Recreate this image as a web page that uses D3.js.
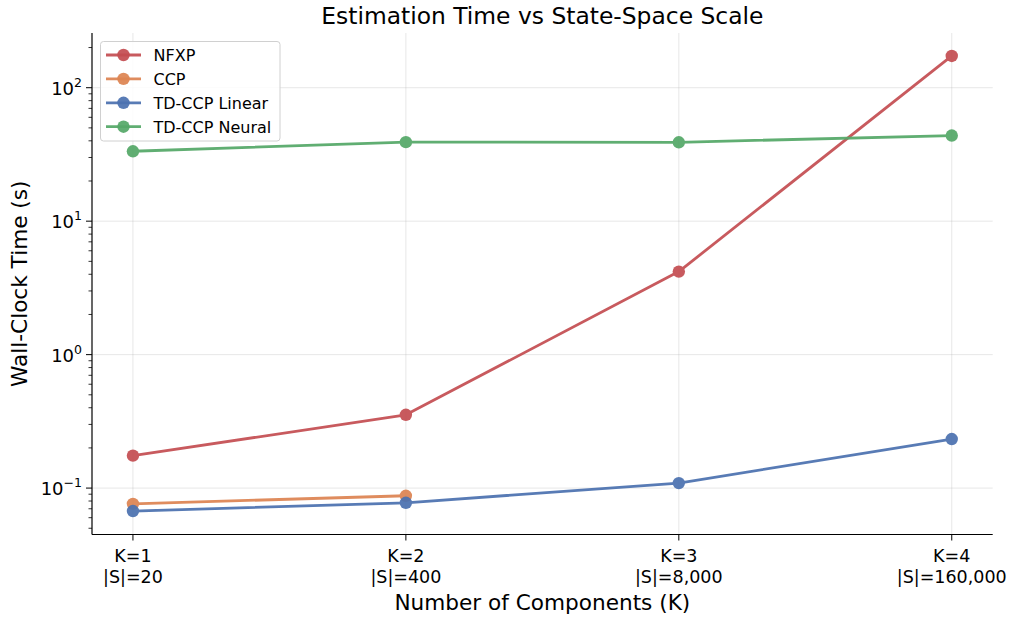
<!DOCTYPE html>
<html>
<head>
<meta charset="utf-8">
<script src="https://cdn.jsdelivr.net/npm/d3@7"></script>
<style>
  html, body { margin: 0; padding: 0; background: #fff; }
  svg { display: block; font-family: "DejaVu Sans", sans-serif; }
</style>
</head>
<body>
<svg id="chart" width="1012" height="618"></svg>
<script>
// Component counts and the corresponding state-space sizes
const categories = ["K=1", "K=2", "K=3", "K=4"];
const stateSizes = ["|S|=20", "|S|=400", "|S|=8,000", "|S|=160,000"];

// Wall-clock estimation time in seconds (log scale)
const nfxp = [0.175, 0.354, 4.19, 173];
const ccp = [0.0762, 0.0876];
const tdccpLinear = [0.0673, 0.0776, 0.109, 0.233];
const tdccpNeural = [33.4, 39.1, 39.0, 43.8];

const seriesNames = ["NFXP", "CCP", "TD-CCP Linear", "TD-CCP Neural"];
const seriesColors = ["#c44e52", "#dd8452", "#4c72b0", "#55a868"];
const seriesValues = [nfxp, ccp, tdccpLinear, tdccpNeural];

const yTickExponents = [-1, 0, 1, 2];

const svg = d3.select("#chart");
const margin = { left: 92, right: 1012 - 992.7, top: 33, bottom: 618 - 534.5 };
const W = 1012, H = 618;
const plotW = W - margin.left - margin.right;
const plotH = H - margin.top - margin.bottom;

const x = d3.scaleLinear().domain([-0.15, 3.15]).range([margin.left, margin.left + plotW]);
const y = d3.scaleLog().domain([0.0449, 257]).range([margin.top + plotH, margin.top]);

const g = svg.append("g");

// grid
const grid = g.append("g");
grid.selectAll("line.gx").data(categories).join("line")
  .attr("x1", (d, i) => x(i)).attr("x2", (d, i) => x(i))
  .attr("y1", margin.top).attr("y2", margin.top + plotH)
  .attr("stroke", "#b0b0b0").attr("stroke-opacity", 0.3).attr("stroke-width", 1);
grid.selectAll("line.gy").data(yTickExponents).join("line")
  .attr("x1", margin.left).attr("x2", margin.left + plotW)
  .attr("y1", d => y(Math.pow(10, d))).attr("y2", d => y(Math.pow(10, d)))
  .attr("stroke", "#b0b0b0").attr("stroke-opacity", 0.3).attr("stroke-width", 1);

// series
const line = d3.line().x((d, i) => x(i)).y(d => y(d));
seriesValues.forEach((vals, s) => {
  const sg = g.append("g").attr("opacity", 0.93);
  sg.append("path").datum(vals)
    .attr("d", line)
    .attr("fill", "none")
    .attr("stroke", seriesColors[s])
    .attr("stroke-width", 2.8)
    .attr("stroke-linejoin", "round")
    .attr("stroke-linecap", "butt");
  sg.selectAll(null).data(vals).join("circle")
    .attr("cx", (d, i) => x(i)).attr("cy", d => y(d))
    .attr("r", 6.2).attr("fill", seriesColors[s]);
});

// y axis: major ticks with superscript labels, minor ticks
const yAxisG = g.append("g");
const minorTicks = y.ticks().filter(v => {
  const e = Math.log10(v);
  return Math.abs(e - Math.round(e)) > 1e-6;
});
yAxisG.selectAll("line.minor").data(minorTicks).join("line")
  .attr("x1", margin.left - 3.5).attr("x2", margin.left)
  .attr("y1", d => y(d)).attr("y2", d => y(d))
  .attr("stroke", "#000").attr("stroke-width", 0.8);
yAxisG.selectAll("line.major").data(yTickExponents).join("line")
  .attr("x1", margin.left - 6).attr("x2", margin.left)
  .attr("y1", d => y(Math.pow(10, d))).attr("y2", d => y(Math.pow(10, d)))
  .attr("stroke", "#000").attr("stroke-width", 1);
const yLabels = yAxisG.selectAll("text").data(yTickExponents).join("text")
  .attr("x", margin.left - 10)
  .attr("y", d => y(Math.pow(10, d)) + 7)
  .attr("text-anchor", "end")
  .attr("font-size", 18)
  .attr("fill", "#000");
yLabels.append("tspan").text("10");
yLabels.append("tspan")
  .attr("dy", -8)
  .attr("font-size", 12.5)
  .text(d => d < 0 ? "\u2212" + Math.abs(d) : String(d));

// x axis ticks and two-line labels
const xAxisG = g.append("g");
xAxisG.selectAll("line").data(categories).join("line")
  .attr("x1", (d, i) => x(i)).attr("x2", (d, i) => x(i))
  .attr("y1", margin.top + plotH).attr("y2", margin.top + plotH + 6)
  .attr("stroke", "#000").attr("stroke-width", 1);
const xl = xAxisG.selectAll("text").data(categories).join("text")
  .attr("text-anchor", "middle").attr("font-size", 17.5).attr("fill", "#000");
xl.append("tspan").attr("x", (d, i) => x(i)).attr("y", 561.5).text(d => d);
xl.append("tspan").attr("x", (d, i) => x(i)).attr("y", 583).text((d, i) => stateSizes[i]);

// spines (left and bottom)
g.append("line").attr("x1", margin.left).attr("x2", margin.left)
  .attr("y1", margin.top).attr("y2", margin.top + plotH).attr("stroke", "#000").attr("stroke-width", 1.2);
g.append("line").attr("x1", margin.left).attr("x2", margin.left + plotW)
  .attr("y1", margin.top + plotH).attr("y2", margin.top + plotH).attr("stroke", "#000").attr("stroke-width", 1.2);

// titles
svg.append("text").attr("x", margin.left + plotW / 2).attr("y", 24)
  .attr("text-anchor", "middle").attr("font-size", 23.4).text("Estimation Time vs State-Space Scale");
svg.append("text").attr("x", margin.left + plotW / 2).attr("y", 609.5)
  .attr("text-anchor", "middle").attr("font-size", 21.6).text("Number of Components (K)");
svg.append("text")
  .attr("transform", `translate(27,${margin.top + plotH / 2}) rotate(-90)`)
  .attr("text-anchor", "middle").attr("font-size", 21.6).text("Wall-Clock Time (s)");

// legend
const legend = svg.append("g");
legend.append("rect").attr("x", 100.5).attr("y", 41.5).attr("width", 179.5).attr("height", 99.5)
  .attr("rx", 3).attr("fill", "#fff").attr("fill-opacity", 0.85)
  .attr("stroke", "#d0d0d0").attr("stroke-width", 1);
const items = legend.selectAll("g.item").data(seriesNames).join("g")
  .attr("transform", (d, i) => `translate(0,${55 + i * 23.9})`);
items.append("line").attr("x1", 106).attr("x2", 141).attr("y1", 0).attr("y2", 0)
  .attr("stroke", (d, i) => seriesColors[i]).attr("stroke-width", 2.8).attr("opacity", 0.93);
items.append("circle").attr("cx", 123.5).attr("cy", 0).attr("r", 6.2)
  .attr("fill", (d, i) => seriesColors[i]).attr("opacity", 0.93);
items.append("text").attr("x", 153.5).attr("y", 6).attr("font-size", 16).text(d => d);
</script>
</body>
</html>
